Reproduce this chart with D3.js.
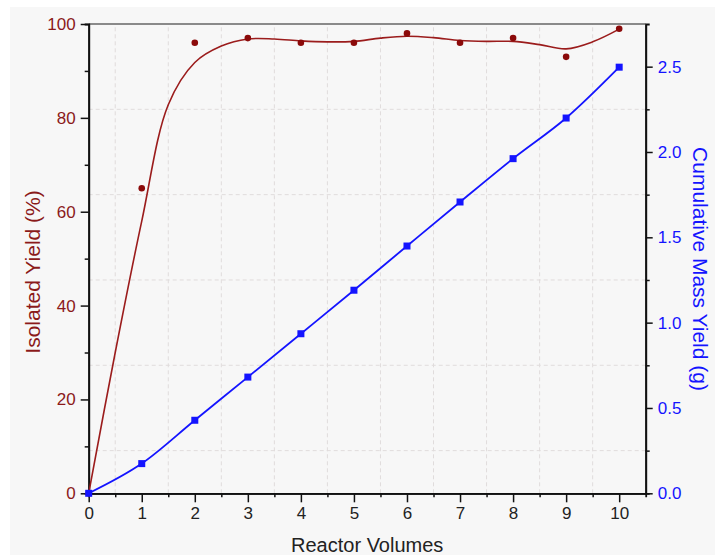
<!DOCTYPE html>
<html>
<head>
<meta charset="utf-8">
<script src="https://cdn.jsdelivr.net/npm/d3@7"></script>
<style>
  body { margin: 0; background: #fff; }
  svg { display: block; font-family: "Liberation Sans", Arial, sans-serif; }
</style>
</head>
<body>
<div id="chart"></div>
<script>
// reactor volumes
const volumes = [0, 1, 2, 3, 4, 5, 6, 7, 8, 9, 10]
// isolated yield (%) measured points
const isolatedYield = [0, 65, 96, 97, 96, 96, 98, 96, 97, 93, 99]
// cumulative mass yield (g)
const massYield = [0, 0.174, 0.428, 0.681, 0.935, 1.19, 1.449, 1.707, 1.961, 2.199, 2.497]
// smoothed yield trend
const fitX = [0, 0.5, 1, 1.5, 2, 2.5, 3, 3.5, 4, 4.5, 5, 5.5, 6, 6.5, 7, 7.5, 8, 8.5, 9, 9.5, 10]
const fitY = [0, 30, 58, 82.8, 91.8, 95.3, 96.8, 96.8, 96.4, 96.2, 96.3, 97, 97.4, 97.1, 96.5, 96.3, 96.3, 95.6, 94.7, 96.2, 98.9]

const xTicks = [0, 1, 2, 3, 4, 5, 6, 7, 8, 9, 10]
const leftTicks = [0, 20, 40, 60, 80, 100]
const rightTicks = [0, 0.5, 1.0, 1.5, 2.0, 2.5]

const W = 721, H = 560
const M = {TOP: 24, BOTTOM: 67, LEFT: 88.7, RIGHT: 75}
const RED = '#8b1a1a', LINE_RED = '#9b1c1c', BLUE = '#1414ff'

const svg = d3.select('#chart').append('svg')
    .attr('width', W)
    .attr('height', H)

svg.append('rect')
    .attr('x', 10).attr('y', 7)
    .attr('width', 705).attr('height', 548)
    .attr('fill', '#f7f7f7')

const x = d3.scaleLinear().domain([0, 10.5]).range([M.LEFT, W - M.RIGHT - 0.3])
const yL = d3.scaleLinear().domain([0, 100]).range([H - M.BOTTOM + 0.3, M.TOP])
const yR = d3.scaleLinear().domain([0, 2.75]).range([H - M.BOTTOM + 0.3, M.TOP])

// faint dashed grid on minor positions
const grid = svg.append('g')
    .attr('stroke', '#e0dcdc')
    .attr('stroke-dasharray', '4,3')
    .attr('stroke-width', 1)
d3.range(0.5, 10.5, 1).forEach(v => {
    grid.append('line')
        .attr('x1', x(v)).attr('x2', x(v))
        .attr('y1', yL(0)).attr('y2', yL(100))
})
d3.range(0.25, 2.75, 0.5).forEach(v => {
    grid.append('line')
        .attr('x1', x(0)).attr('x2', x(10.5))
        .attr('y1', yR(v)).attr('y2', yR(v))
})

// top frame
svg.append('line')
    .attr('x1', x(0)).attr('x2', x(10.5))
    .attr('y1', yL(100)).attr('y2', yL(100))
    .attr('stroke', '#666').attr('stroke-width', 1.5)

function styleAxis(g, color) {
    g.select('.domain').attr('stroke', '#111').attr('stroke-width', 1.8)
    g.selectAll('.tick line').attr('stroke', '#111').attr('stroke-width', 1.5)
    g.selectAll('.tick text')
        .attr('fill', color)
        .style('font-size', '17px')
}

// bottom axis
const xMinor = svg.append('g')
    .attr('transform', `translate(0, ${yL(0)})`)
    .call(d3.axisBottom(x).tickValues(d3.range(0.5, 10.5, 1)).tickSize(4).tickFormat(''))
styleAxis(xMinor, '#111')
const xAxis = svg.append('g')
    .attr('transform', `translate(0, ${yL(0)})`)
    .call(d3.axisBottom(x).tickValues(xTicks).tickSize(9).tickSizeOuter(0).tickPadding(5).tickFormat(d3.format('d')))
styleAxis(xAxis, '#222')

// left axis
const lMinor = svg.append('g')
    .attr('transform', `translate(${x(0)}, 0)`)
    .call(d3.axisLeft(yL).tickValues(d3.range(10, 100, 20)).tickSize(4).tickFormat(''))
styleAxis(lMinor, RED)
const lAxis = svg.append('g')
    .attr('transform', `translate(${x(0)}, 0)`)
    .call(d3.axisLeft(yL).tickValues(leftTicks).tickSize(8).tickSizeOuter(0).tickPadding(5).tickFormat(d3.format('d')))
styleAxis(lAxis, RED)

// right axis
const rMinor = svg.append('g')
    .attr('transform', `translate(${x(10.5)}, 0)`)
    .call(d3.axisRight(yR).tickValues(d3.range(0.25, 2.75, 0.5)).tickSize(4).tickFormat(''))
styleAxis(rMinor, BLUE)
const rAxis = svg.append('g')
    .attr('transform', `translate(${x(10.5)}, 0)`)
    .call(d3.axisRight(yR).tickValues(rightTicks).tickSize(7).tickSizeOuter(0).tickPadding(5).tickFormat(d3.format('.1f')))
styleAxis(rAxis, BLUE)

// axis titles
svg.append('text')
    .attr('x', (x(0) + x(10.5)) / 2)
    .attr('y', 552)
    .attr('text-anchor', 'middle')
    .attr('fill', '#222')
    .style('font-size', '20px')
    .text('Reactor Volumes')

svg.append('text')
    .attr('transform', 'translate(40, 272) rotate(-90)')
    .attr('text-anchor', 'middle')
    .attr('fill', RED)
    .style('font-size', '21px')
    .text('Isolated Yield (%)')

svg.append('text')
    .attr('transform', 'translate(693, 269) rotate(90)')
    .attr('text-anchor', 'middle')
    .attr('fill', BLUE)
    .style('font-size', '21px')
    .text('Cumulative Mass Yield (g)')

// yield trend line
const fitLine = d3.line()
    .x((d, i) => x(fitX[i]))
    .y(d => yL(d))
    .curve(d3.curveCatmullRom.alpha(0.5))
svg.append('path')
    .datum(fitY)
    .attr('d', fitLine)
    .attr('fill', 'none')
    .attr('stroke', LINE_RED)
    .attr('stroke-width', 1.6)

svg.selectAll('.ypt')
    .data(isolatedYield)
    .enter().append('circle')
    .attr('class', 'ypt')
    .attr('cx', (d, i) => x(volumes[i]))
    .attr('cy', d => yL(d))
    .attr('r', 3.3)
    .attr('fill', '#8b0a0a')

// mass yield line
const massLine = d3.line()
    .x((d, i) => x(volumes[i]))
    .y(d => yR(d))
    .curve(d3.curveMonotoneX)
svg.append('path')
    .datum(massYield)
    .attr('d', massLine)
    .attr('fill', 'none')
    .attr('stroke', BLUE)
    .attr('stroke-width', 1.8)

svg.selectAll('.mpt')
    .data(massYield)
    .enter().append('rect')
    .attr('class', 'mpt')
    .attr('x', (d, i) => x(volumes[i]) - 3.5)
    .attr('y', d => yR(d) - 3.5)
    .attr('width', 7)
    .attr('height', 7)
    .attr('fill', BLUE)
</script>
</body>
</html>
